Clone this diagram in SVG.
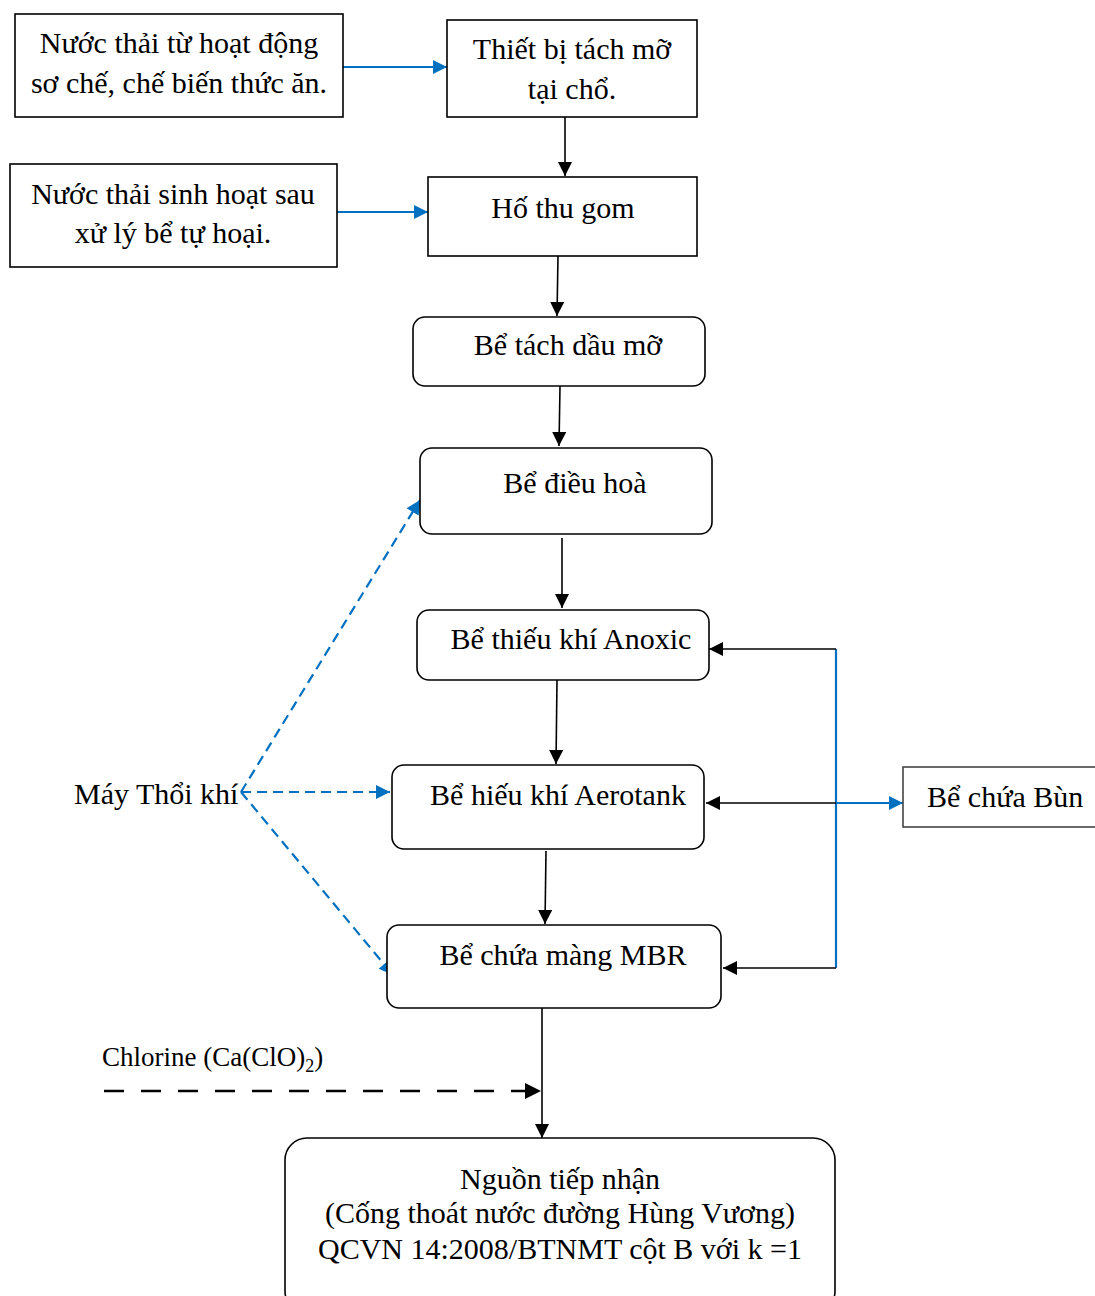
<svg xmlns="http://www.w3.org/2000/svg" width="1095" height="1296" viewBox="0 0 1095 1296">
<style>
text{font-family:'Liberation Serif','DejaVu Serif',serif;font-size:30px;fill:#000}
.c{text-anchor:middle}
.box{fill:#fff;stroke:#000;stroke-width:1.6}
.k{stroke:#000;stroke-width:1.6;fill:none}
.b{stroke:#0070C0;stroke-width:2.2;fill:none}
.bd{stroke:#0070C0;stroke-width:2.2;fill:none;stroke-dasharray:10,6}
</style>
<defs>
<marker id="ak" viewBox="0 0 10 10" refX="10" refY="5" markerWidth="16" markerHeight="14" markerUnits="userSpaceOnUse" orient="auto"><path d="M0,0L10,5L0,10z" fill="#000"/></marker>
<marker id="ab" viewBox="0 0 10 10" refX="10" refY="5" markerWidth="16" markerHeight="14" markerUnits="userSpaceOnUse" orient="auto"><path d="M0,0L10,5L0,10z" fill="#0070C0"/></marker>
<marker id="akl" viewBox="0 0 10 10" refX="10" refY="5" markerWidth="32" markerHeight="16" markerUnits="userSpaceOnUse" orient="auto"><path d="M0,0L10,5L0,10z" fill="#000"/></marker>
</defs>

<g id="connectors">
<line class="b" x1="343" y1="67" x2="447" y2="67" marker-end="url(#ab)"/>
<line class="k" x1="565" y1="117" x2="565" y2="176" marker-end="url(#ak)"/>
<line class="b" x1="337" y1="212" x2="428" y2="212" marker-end="url(#ab)"/>
<line class="k" x1="558" y1="256" x2="557" y2="316" marker-end="url(#ak)"/>
<line class="k" x1="560" y1="386" x2="559" y2="446" marker-end="url(#ak)"/>
<line class="k" x1="562" y1="538" x2="562" y2="608" marker-end="url(#ak)"/>
<line class="k" x1="557" y1="680" x2="556" y2="764" marker-end="url(#ak)"/>
<line class="k" x1="546" y1="851" x2="545" y2="924" marker-end="url(#ak)"/>
<line class="k" x1="542" y1="1008" x2="542" y2="1138" marker-end="url(#ak)"/>
<line x1="104" y1="1091" x2="541" y2="1091" stroke="#000" stroke-width="2.5" stroke-dasharray="20,17" marker-end="url(#akl)"/>
<line class="b" x1="836" y1="649" x2="836" y2="968"/>
<line class="k" x1="836" y1="649" x2="709" y2="649" marker-end="url(#ak)"/>
<line class="k" x1="836" y1="803" x2="706" y2="803" marker-end="url(#ak)"/>
<line class="k" x1="836" y1="968" x2="723" y2="968" marker-end="url(#ak)"/>
<line class="b" x1="836" y1="803" x2="903" y2="803" marker-end="url(#ab)"/>
<line class="bd" x1="241" y1="792" x2="420" y2="500" marker-end="url(#ab)"/>
<line class="bd" x1="241" y1="792" x2="390" y2="792" marker-end="url(#ab)"/>
<line class="bd" x1="241" y1="792" x2="393" y2="975" marker-end="url(#ab)"/>
</g>

<g id="n1"><rect class="box" x="15" y="14" width="328" height="103"/>
<text class="c" x="179" y="53">Nước thải từ hoạt động</text>
<text class="c" x="179" y="93">sơ chế, chế biến thức ăn.</text></g>

<g id="n2"><rect class="box" x="447" y="20" width="250" height="97"/>
<text class="c" x="572" y="59">Thiết bị tách mỡ</text>
<text class="c" x="572" y="99">tại chổ.</text></g>

<g id="n3"><rect class="box" x="428" y="177" width="269" height="79"/>
<text class="c" x="563" y="218">Hố thu gom</text></g>

<g id="n4"><rect class="box" x="10" y="164" width="327" height="103"/>
<text class="c" x="173" y="204">Nước thải sinh hoạt sau</text>
<text class="c" x="173" y="243">xử lý bể tự hoại.</text></g>

<g id="n5"><rect class="box" x="413" y="317" width="292" height="69" rx="12"/>
<text class="c" x="568" y="355">Bể tách dầu mỡ</text></g>

<g id="n6"><rect class="box" x="420" y="448" width="292" height="86" rx="12"/>
<text class="c" x="575" y="493">Bể điều hoà</text></g>

<g id="n7"><rect class="box" x="417" y="610" width="292" height="70" rx="12"/>
<text class="c" x="571" y="649">Bể thiếu khí Anoxic</text></g>

<g id="n8"><rect class="box" x="392" y="765" width="312" height="84" rx="12"/>
<text class="c" x="558" y="805">Bể hiếu khí Aerotank</text></g>

<g id="n9"><rect class="box" x="387" y="925" width="334" height="83" rx="12"/>
<text class="c" x="563" y="965">Bể chứa màng MBR</text></g>

<g id="n10"><rect class="box" x="285" y="1138" width="550" height="175" rx="22"/>
<text class="c" x="560" y="1189">Nguồn tiếp nhận</text>
<text class="c" x="560" y="1223">(Cống thoát nước đường Hùng Vương)</text>
<text class="c" x="560" y="1259">QCVN 14:2008/BTNMT cột B với k =1</text></g>

<g id="n11"><rect x="903" y="767" width="200" height="60" fill="#fff" stroke="#444" stroke-width="1.6"/>
<text x="927" y="807">Bể chứa Bùn</text></g>

<g id="n12"><text x="74" y="804">Máy Thổi khí</text></g>

<g id="n13"><text x="102" y="1066" style="font-size:27px">Chlorine (Ca(ClO)<tspan style="font-size:18px" dy="6">2</tspan><tspan dy="-6">)</tspan></text></g>
</svg>
